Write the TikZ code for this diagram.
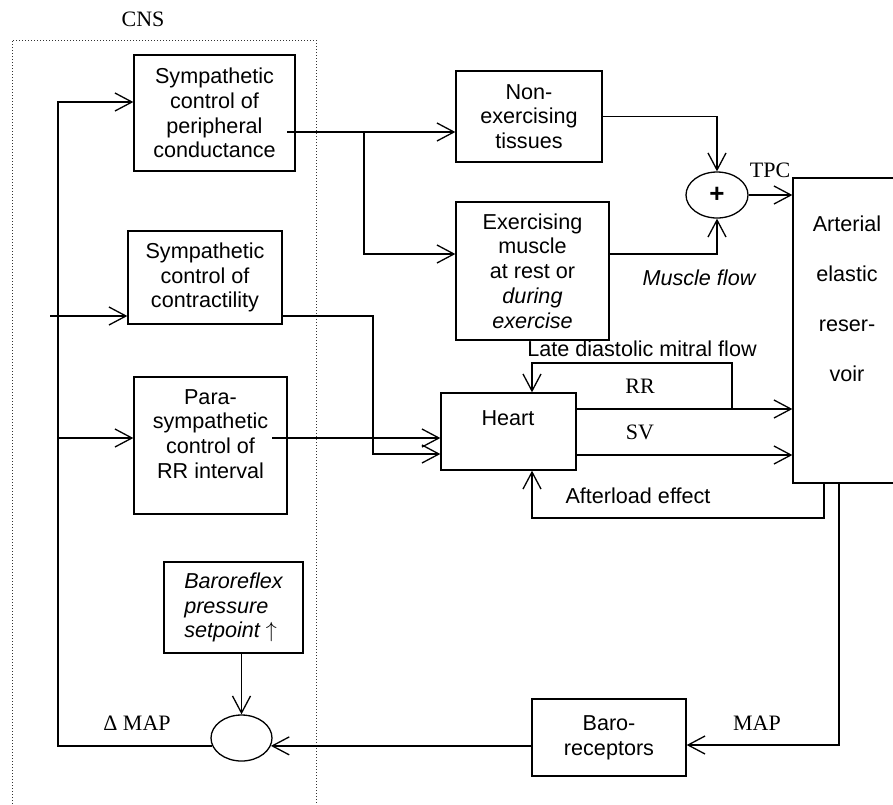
\documentclass[tikz,border=0pt]{standalone}
\usepackage{fontspec}
\setmainfont{Liberation Serif}
\setsansfont{Liberation Sans}
\usetikzlibrary{arrows.meta,shapes.geometric}

\begin{document}
\begin{tikzpicture}[
  x=0.5pt, y=-0.5pt,
  block/.style={rectangle, draw, line width=0.65pt, inner sep=0pt, align=center, font=\sffamily\fontsize{10.8}{12.4}\selectfont},
  junction/.style={ellipse, draw, line width=0.65pt, inner sep=0pt, minimum width=31pt, minimum height=23pt},
  wire/.style={-{Straight Barb[length=8.5pt,width=9pt]}, line width=0.65pt},
  txt/.style={font=\sffamily\fontsize{10.8}{12.4}\selectfont, inner sep=0pt, align=center},
  sig/.style={font=\fontsize{11}{13}\selectfont, inner sep=0pt},
  cnsbox/.style={densely dotted, line width=0.5pt, black!80}
]
\useasboundingbox (0,0) rectangle (893,804);

% CNS region
\draw[cnsbox] (12,810) |- (316,40) -- (316,810);
\node[sig] (cns) at (143,19) {CNS};

% Autonomic controllers
\node[block, minimum width=80.5pt, minimum height=58pt] (symcond) at (214.5,113) {Sympathetic\\control of\\peripheral\\conductance};
\node[block, minimum width=77pt, minimum height=46.5pt] (symcon) at (205,277.5) {Sympathetic\\control of\\contractility};
\node[block, minimum width=76.5pt, minimum height=68.5pt] (para) at (210.5,445.5) {};
\node[txt] (paratxt) at (210.5,434) {Para-\\sympathetic\\control of\\RR interval};
\node[block, minimum width=69.5pt, minimum height=45.5pt, align=left, font=\sffamily\itshape\fontsize{10.8}{12.4}\selectfont] (baroset) at (233.5,607.5) {Baroreflex\\pressure\\setpoint $\uparrow$};
\node[junction, minimum width=30.5pt] (comp) at (241.5,738) {};

% Periphery
\node[block, minimum width=73pt, minimum height=45.5pt] (noex) at (529,116.5) {Non-\\exercising\\tissues};
\node[block, minimum width=76.5pt, minimum height=69pt] (exmus) at (532.5,271) {Exercising\\muscle\\at rest or\\\textit{during}\\\textit{exercise}};
\node[junction] (sum) at (717,195) {\sffamily\bfseries\fontsize{13}{13}\selectfont +};
\node[block, minimum width=54pt, minimum height=152.5pt] (art) at (847,330.5) {};
\node[txt, font=\sffamily\fontsize{10.8}{25}\selectfont] (arttxt) at (847,299) {Arterial\\elastic\\reser-\\voir};
\node[block, minimum width=67.5pt, minimum height=38.5pt] (heart) at (508.5,431.5) {};
\node[txt] (hearttxt) at (508,418) {Heart};
\node[block, minimum width=77pt, minimum height=38.5pt] (baro) at (609,737.5) {Baro-\\receptors};

% Labels
\node[sig] (tpc) at (770,170) {TPC};
\node[txt, font=\sffamily\itshape\fontsize{10.8}{12.4}\selectfont] (musflow) at (699,278) {Muscle flow};
\node[txt] (ldmf) at (642,349) {Late diastolic mitral flow};
\node[sig] (rr) at (640,386) {RR};
\node[sig] (sv) at (640,432) {SV};
\node[txt] (after) at (638,496) {Afterload effect};
\node[sig] (map) at (757,723) {MAP};
\node[sig] (dmap) at (137,723) {Δ MAP};

% Free ends
\coordinate (bustop) at (58,102);
\coordinate (busmid) at (58,438);
\coordinate (conin) at (50,316);
\coordinate (condout) at (287,132);
\coordinate (split) at (364,132);
\coordinate (paraout) at (272,438);
\coordinate (ldm) at (732,409);

% Wires
\draw[wire] (comp.195) -| (bustop) -- (symcond.west |- bustop);
\draw[wire] (busmid) -- (para.west |- busmid);
\draw[wire] (conin) -- (symcon.west |- conin);
\draw[wire] (condout) -- (noex.west |- condout);
\draw[wire] (split) |- (exmus.west |- 0,254);
\draw[wire] (noex.east) -| (sum.north);
\draw[wire] (exmus.east |- 0,254) -| (sum.south);
\draw[wire] (sum.east) -- (art.west |- sum.east);
\draw[wire] (symcon.east |- conin) -| (373,454) -- (heart.west |- 0,454);
\draw[wire] (paraout) -- (heart.west |- paraout);
\draw[wire] (heart.east |- ldm) -- (art.west |- ldm);
\draw[wire] (ldm) |- (532,363) -- (heart.north -| 532,0);
\draw[wire] (heart.east |- 0,455) -- (art.west |- 0,455);
\draw[wire] (art.south -| 824,0) |- (532,518) -- (heart.south -| 532,0);
\draw[wire] (art.south -| 839,0) |- (baro.east |- 0,745);
\draw[wire] (baro.west |- comp.-15) -- (comp.-15);
\draw[wire] (baroset.south -| comp.north) -- (comp.north);

\end{tikzpicture}
\end{document}
